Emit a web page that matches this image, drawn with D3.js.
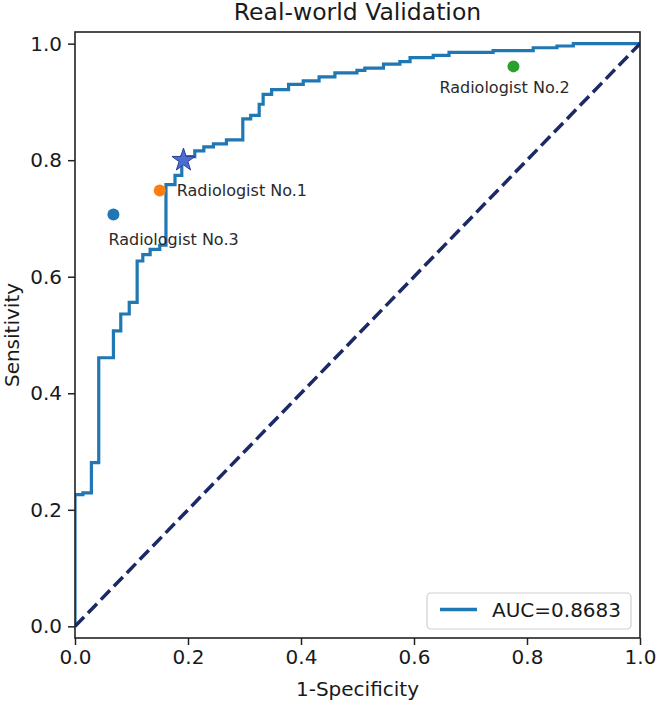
<!DOCTYPE html>
<html><head><meta charset="utf-8">
<script src="https://cdn.jsdelivr.net/npm/d3@7"></script>
<style>
html,body{margin:0;padding:0;background:#fff;}
text{font-family:"DejaVu Sans",sans-serif;}
</style></head>
<body>
<svg id="chart" width="657" height="702"></svg>
<script>
// ROC curve vertices (1-specificity, sensitivity)
const rocFpr = [0,0,0.014,0.014,0.029,0.029,0.042,0.042,0.068,0.068,0.081,0.081,0.096,0.096,0.110,0.110,0.120,0.120,0.133,0.133,0.150,0.150,0.161,0.161,0.177,0.177,0.189,0.189,0.212,0.212,0.228,0.228,0.245,0.245,0.268,0.268,0.297,0.297,0.311,0.311,0.326,0.326,0.333,0.333,0.348,0.348,0.378,0.378,0.404,0.404,0.432,0.432,0.460,0.460,0.499,0.499,0.513,0.513,0.546,0.546,0.575,0.575,0.593,0.593,0.634,0.634,0.662,0.662,0.740,0.740,0.811,0.811,0.853,0.853,0.882,0.882,1.0];
const rocTpr = [0,0.226,0.226,0.229,0.229,0.281,0.281,0.461,0.461,0.507,0.507,0.536,0.536,0.556,0.556,0.627,0.627,0.638,0.638,0.647,0.647,0.654,0.654,0.758,0.758,0.774,0.774,0.806,0.806,0.816,0.816,0.823,0.823,0.828,0.828,0.835,0.835,0.871,0.871,0.877,0.877,0.896,0.896,0.913,0.913,0.921,0.921,0.930,0.930,0.936,0.936,0.943,0.943,0.950,0.950,0.954,0.954,0.958,0.958,0.965,0.965,0.969,0.969,0.976,0.976,0.980,0.980,0.985,0.985,0.988,0.988,0.993,0.993,0.996,0.996,1.0,1.0];
const aucLabel = "AUC=0.8683";

// Radiologists
const radNames = ["Radiologist No.1","Radiologist No.2","Radiologist No.3"];
const radFpr = [0.150,0.776,0.068];
const radTpr = [0.748,0.961,0.707];
const radColors = ["#ff7f0e","#2ca02c","#1f77b4"];

// Model operating point (star)
const starFpr = 0.192, starTpr = 0.800;

const diagX = [0,1], diagY = [0,1];
const xTicks = [0,0.2,0.4,0.6,0.8,1.0];
const yTicks = [0,0.2,0.4,0.6,0.8,1.0];
const titleText = "Real-world Validation";
const xLabel = "1-Specificity", yLabel = "Sensitivity";

const svg = d3.select("#chart");
const L=75, R=640, T=32, B=638;
const x = d3.scaleLinear().domain([0,1]).range([L,R]);
const y = d3.scaleLinear().domain([-0.02,1.02]).range([B,T]);

svg.append("defs").append("clipPath").attr("id","clip")
  .append("rect").attr("x",L).attr("y",T).attr("width",R-L).attr("height",B-T);

const plot = svg.append("g").attr("clip-path","url(#clip)");

// ROC curve
const roc = rocFpr.map((f,i)=>[f,rocTpr[i]]);
const line = d3.line().x(d=>x(d[0])).y(d=>y(d[1]));
plot.append("path").datum(roc).attr("d",line)
  .attr("fill","none").attr("stroke","#1f77b4").attr("stroke-width",3.2)
  .attr("stroke-linejoin","miter");

// diagonal
plot.append("path").datum(diagX.map((v,i)=>[v,diagY[i]])).attr("d",line)
  .attr("fill","none").attr("stroke","#1b2a66").attr("stroke-width",3.5)
  .attr("stroke-dasharray","13,5.6");

// radiologist points
const labelOff = [[17,5.7],[-74,26.5],[-5,31]];
radNames.forEach((n,i)=>{
  svg.append("circle").attr("cx",x(radFpr[i])).attr("cy",y(radTpr[i])).attr("r",6)
    .attr("fill",radColors[i]);
  svg.append("text").attr("x",x(radFpr[i])+labelOff[i][0]).attr("y",y(radTpr[i])+labelOff[i][1])
    .attr("font-size",16).attr("fill","#2a2a2a").text(n);
});

// star
svg.append("path").attr("d",d3.symbol(d3.symbolStar,165)())
  .attr("transform",`translate(${x(starFpr)},${y(starTpr)})`)
  .attr("fill","#4a6cd4").attr("stroke","#2a3f8f").attr("stroke-width",1);

// axes
const xAxis = d3.axisBottom(x).tickValues(xTicks).tickFormat(d3.format(".1f")).tickSize(7).tickPadding(5);
const yAxis = d3.axisLeft(y).tickValues(yTicks).tickFormat(d3.format(".1f")).tickSize(7).tickPadding(6);
const gx = svg.append("g").attr("transform",`translate(0,${B})`).call(xAxis);
const gy = svg.append("g").attr("transform",`translate(${L},0)`).call(yAxis);
[gx,gy].forEach(g=>{
  g.select(".domain").remove();
  g.selectAll(".tick line").attr("stroke","#222").attr("stroke-width",1.5);
  g.selectAll(".tick text").attr("font-size",20).attr("fill","#1a1a1a")
    .attr("font-family","DejaVu Sans");
});
// frame
svg.append("rect").attr("x",L).attr("y",T).attr("width",R-L).attr("height",B-T)
  .attr("fill","none").attr("stroke","#222").attr("stroke-width",1.6);

// title & labels
svg.append("text").attr("x",(L+R)/2).attr("y",20).attr("text-anchor","middle")
  .attr("font-size",23.5).attr("fill","#1a1a1a").text(titleText);
svg.append("text").attr("x",(L+R)/2).attr("y",696).attr("text-anchor","middle")
  .attr("font-size",20).attr("fill","#1a1a1a").text(xLabel);
svg.append("text").attr("transform",`translate(18.5,${(T+B)/2}) rotate(-90)`).attr("text-anchor","middle")
  .attr("font-size",20).attr("fill","#1a1a1a").text(yLabel);

// legend
const lg = svg.append("g");
lg.append("rect").attr("x",427).attr("y",593).attr("width",204).attr("height",36)
  .attr("rx",4).attr("fill","#fff").attr("fill-opacity",0.85).attr("stroke","#cfcfcf").attr("stroke-width",1.2);
lg.append("line").attr("x1",440).attr("x2",477).attr("y1",609.5).attr("y2",609.5)
  .attr("stroke","#1f77b4").attr("stroke-width",3.5);
lg.append("text").attr("x",492).attr("y",617).attr("font-size",20).attr("fill","#1a1a1a").text(aucLabel);
</script>
</body></html>
